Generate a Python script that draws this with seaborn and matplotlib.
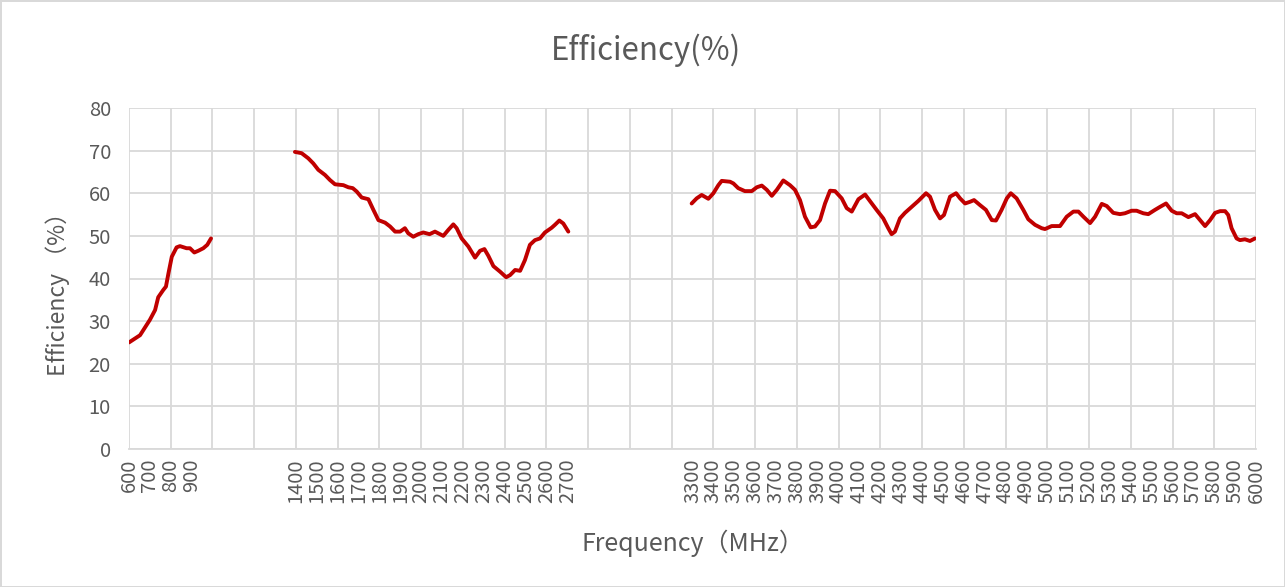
import matplotlib
matplotlib.use("Agg")
import matplotlib.pyplot as plt
import seaborn as sns
import pandas as pd

# segment 1: low band
seg1_freq = [600, 653, 700, 725, 740, 764, 777, 789, 805, 828, 844, 876, 892, 913, 932, 956, 975, 993]
seg1_eff = [25.0, 26.7, 30.3, 32.6, 35.6, 37.3, 38.1, 41.2, 45.1, 47.3, 47.6, 47.1, 47.1, 46.1, 46.5, 47.1, 47.9, 49.4]

# segment 2: mid band
seg2_freq = [1395, 1427, 1459, 1483, 1507, 1539, 1563, 1587, 1627, 1651, 1672, 1691, 1715, 1747,
             1771, 1795, 1827, 1851, 1875, 1899, 1922, 1938, 1962, 1986, 2010, 2040, 2066, 2106,
             2130, 2154, 2170, 2194, 2226, 2258, 2282, 2303, 2322, 2346, 2378, 2407, 2426, 2450,
             2474, 2497, 2521, 2545, 2569, 2593, 2625, 2641, 2662, 2681, 2705]
seg2_eff = [69.7, 69.4, 68.2, 67.0, 65.5, 64.3, 63.1, 62.1, 61.9, 61.4, 61.2, 60.4, 59.0, 58.6,
            56.1, 53.7, 53.1, 52.2, 51.0, 51.0, 51.8, 50.6, 49.8, 50.4, 50.8, 50.4, 51.0, 50.0,
            51.4, 52.7, 51.8, 49.4, 47.5, 44.9, 46.5, 46.9, 45.3, 42.9, 41.6, 40.3, 40.8, 42.0,
            41.8, 44.3, 47.9, 49.0, 49.4, 50.8, 51.9, 52.6, 53.6, 52.9, 51.0]

# segment 3: high band
seg3_freq = [3296, 3320, 3344, 3376, 3400, 3424, 3440, 3480, 3496, 3519, 3551, 3584, 3608, 3632,
             3656, 3680, 3704, 3735, 3767, 3791, 3815, 3839, 3866, 3887, 3911, 3935, 3959, 3983,
             4015, 4039, 4063, 4095, 4127, 4159, 4182, 4214, 4238, 4254, 4270, 4294, 4318, 4350,
             4382, 4419, 4438, 4462, 4486, 4505, 4534, 4563, 4582, 4606, 4630, 4649, 4678, 4706,
             4734, 4754, 4781, 4806, 4825, 4853, 4885, 4909, 4941, 4973, 4989, 5021, 5061, 5093,
             5125, 5149, 5173, 5205, 5229, 5261, 5285, 5316, 5348, 5372, 5404, 5428, 5460, 5484,
             5516, 5540, 5569, 5596, 5620, 5644, 5676, 5708, 5732, 5756, 5780, 5804, 5828, 5852,
             5867, 5883, 5907, 5923, 5947, 5971, 5995]
seg3_eff = [57.6, 58.8, 59.6, 58.7, 60.0, 61.9, 62.9, 62.7, 62.3, 61.2, 60.5, 60.5, 61.4, 61.8,
            60.8, 59.4, 60.8, 63.0, 61.9, 60.8, 58.4, 54.5, 52.0, 52.2, 53.7, 57.6, 60.6, 60.5,
            58.8, 56.5, 55.7, 58.6, 59.7, 57.6, 56.1, 54.1, 51.8, 50.4, 51.0, 54.1, 55.4, 56.8,
            58.2, 60.0, 59.2, 56.1, 54.1, 54.9, 59.2, 60.0, 58.8, 57.6, 58.0, 58.4, 57.2, 56.1,
            53.7, 53.6, 56.1, 58.8, 60.0, 58.8, 56.1, 53.9, 52.6, 51.8, 51.6, 52.3, 52.3, 54.5,
            55.7, 55.7, 54.5, 53.0, 54.5, 57.5, 57.0, 55.4, 55.1, 55.3, 55.9, 55.9, 55.3, 55.1,
            56.1, 56.8, 57.6, 55.9, 55.3, 55.3, 54.4, 55.1, 53.7, 52.3, 53.7, 55.4, 55.8, 55.8,
            54.9, 51.8, 49.4, 49.0, 49.2, 48.8, 49.4]

tick_freqs = list(range(600, 1000, 100)) + list(range(1400, 2800, 100)) + list(range(3300, 6100, 100))
grid_freqs = list(range(600, 6001, 200))

sns.set_style("white")
plt.rcParams["font.family"] = ["Noto Sans CJK SC", "DejaVu Sans"]

text_color = "#595959"
grid_color = "#D9D9D9"
line_color = "#C00000"

fig = plt.figure(figsize=(12.85, 5.87), dpi=100, edgecolor=grid_color, linewidth=2)
ax = fig.add_axes([129 / 1285, 1 - 449 / 587, 1127 / 1285, 341 / 587])

# vertical gridlines every 200 MHz (drawn directly so they are not hidden by the labelled ticks)
for g in grid_freqs:
    ax.axvline(g, color=grid_color, linewidth=1.3, zorder=0)

for f, e in [(seg1_freq, seg1_eff), (seg2_freq, seg2_eff), (seg3_freq, seg3_eff)]:
    df = pd.DataFrame({"freq": f, "eff": e})
    sns.lineplot(data=df, x="freq", y="eff", ax=ax, color=line_color, linewidth=2.8)

ax.set_xlim(600, 6000)
ax.set_ylim(0, 80)
ax.set_yticks(range(0, 81, 10))
ax.set_xticks(tick_freqs)
ax.set_xticklabels([str(t) for t in tick_freqs], rotation=90)

ax.grid(False)
ax.yaxis.grid(True, color=grid_color, linewidth=1.3)
ax.set_axisbelow(True)
for s in ["top", "right", "left"]:
    ax.spines[s].set_visible(False)
ax.spines["bottom"].set_color(grid_color)
ax.spines["bottom"].set_linewidth(1.3)

ax.tick_params(axis="both", which="both", length=0, colors=text_color, labelsize=14.5)
ax.tick_params(axis="y", pad=13)
ax.tick_params(axis="x", pad=7)

ax.set_xlabel("Frequency（MHz）", fontsize=18, color=text_color)
ax.set_ylabel("Efficiency （%）", fontsize=16.5, color=text_color)
ax.xaxis.set_label_coords(0.5, -0.235)
ax.yaxis.set_label_coords(-0.052, 0.47)

fig.text(0.503, 1 - 50 / 587, "Efficiency(%)", fontsize=22.5, color=text_color, ha="center", va="center")

fig.savefig("out.png", dpi=100, edgecolor=fig.get_edgecolor())
